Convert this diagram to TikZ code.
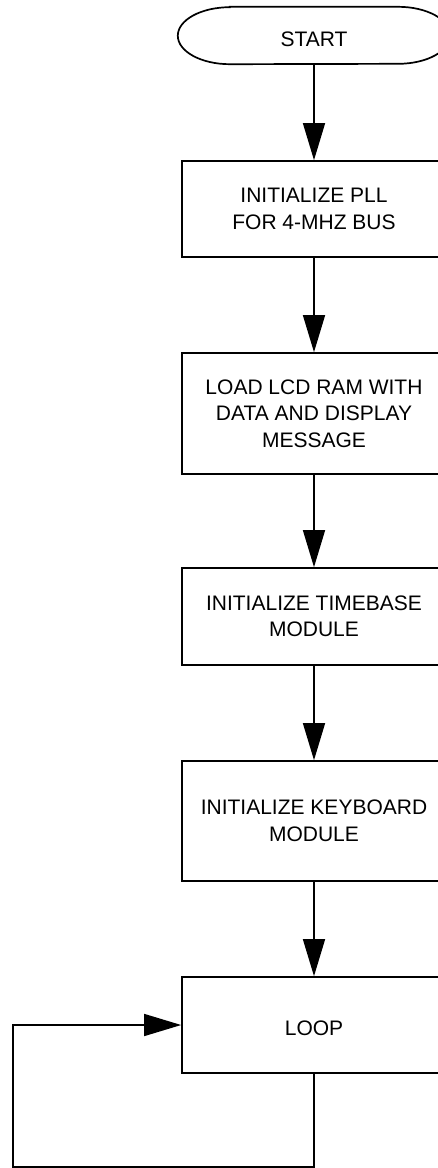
\documentclass[tikz,border=0pt]{standalone}
\usepackage{fontspec}
\setmainfont{Liberation Sans}
\usetikzlibrary{arrows.meta}
\newcommand{\lowertxt}[1]{\raisebox{-3.5pt}[\height][0pt]{#1}}
\begin{document}
\begin{tikzpicture}[x=1pt,y=-1pt,
  txt/.style={font=\fontsize{21}{26.5}\selectfont, align=center, inner sep=0pt},
  boxstyle/.style={txt, draw, line width=1.7pt, minimum width=264pt},
  outline/.style={line width=1.7pt},
  arr/.style={line width=1.5pt, -{Triangle[length=37pt,width=22pt]}}
  ]
\useasboundingbox (0,0) rectangle (438,1168);
\fill[white] (0,0) rectangle (438,1168);
\clip (0,0) rectangle (438,1168);
\node[txt, minimum width=272pt, minimum height=57pt] (start) at (314,35.5) {\lowertxt{START}};
\draw[outline] ([xshift=52pt]start.north west) -- ([xshift=-52pt]start.north east)
  arc[start angle=90, end angle=-90, x radius=52pt, y radius=28.5pt]
  -- ([xshift=52pt]start.south west)
  arc[start angle=270, end angle=90, x radius=52pt, y radius=28.5pt] -- cycle;
\node[boxstyle, minimum height=96pt] (b1) at (314,209) {INITIALIZE PLL\\FOR 4-MHZ BUS};
\node[boxstyle, minimum height=121pt] (b2) at (314,413.5) {LOAD LCD RAM WITH\\DATA AND DISPLAY\\MESSAGE};
\node[boxstyle, minimum height=97pt] (b3) at (314,616.5) {INITIALIZE TIMEBASE\\MODULE};
\node[boxstyle, minimum height=120pt] (b4) at (314,821) {INITIALIZE KEYBOARD\\MODULE};
\node[boxstyle, minimum height=96pt] (b5) at (314,1025) {\lowertxt{LOOP}};
\draw[arr] (start.south) -- (b1.north);
\draw[arr] (b1.south) -- (b2.north);
\draw[arr] (b2.south) -- (b3.north);
\draw[arr] (b3.south) -- (b4.north);
\draw[arr] (b4.south) -- (b5.north);
\coordinate (lpc) at (13,1167);
\draw[arr] (b5.south) |- (lpc) |- (b5.west);
\end{tikzpicture}
\end{document}
